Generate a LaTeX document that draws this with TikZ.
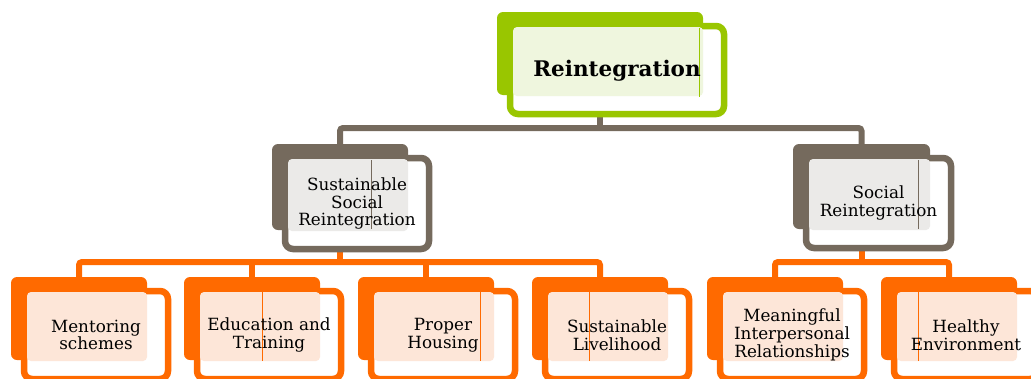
\documentclass[tikz,border=0pt]{standalone}
\usepackage{fontspec}
\setmainfont{DejaVu Serif}
\definecolor{cgreen}{HTML}{99C600}
\definecolor{tgreen}{HTML}{EFF6DE}
\definecolor{cgray}{HTML}{756A5D}
\definecolor{tgray}{HTML}{EBEAE8}
\definecolor{corange}{HTML}{FF6A00}
\definecolor{torange}{HTML}{FDE6D8}
\pgfdeclarelayer{bg}
\pgfsetlayers{bg,main}
\tikzset{
  backbox/.style={rectangle, rounded corners=6pt, fill=#1, anchor=north west, inner sep=0pt, outer sep=0pt},
  frontbox/.style={rectangle, rounded corners=8pt, draw=#1, line width=6.5pt, fill=white, anchor=north west, inner sep=0pt, outer sep=0pt},
  conn/.style={draw=#1, line width=6pt, rounded corners=3pt},
  thinline/.style={draw=#1, line width=0.8pt},
  lbl/.style={align=center, inner sep=0pt, font=\fontsize{16.8}{17.8}\selectfont},
}
% #1 name, #2 bx, #3 by, #4 w, #5 h, #6 colour, #7 tint
\newcommand{\unitbox}[7]{%
  \node[backbox=#6, minimum width=#4pt, minimum height=#5pt] (#1-b) at (#2,#3) {};
  \node[frontbox=#6, minimum width={#4pt+8pt}, minimum height={#5pt+5pt}] (#1) at ({#2+13},{#3+14}) {};
  \fill[#7, rounded corners=4pt] ({#2+16},{#3+15}) rectangle ({#2+#4},{#3+#5+1});
}
\newcommand{\unitlabel}[3]{\node[lbl,#3] (#1-t) at (#1.center) {#2};}
\begin{document}
\begin{tikzpicture}[x=1pt,y=-1pt]
\useasboundingbox (0,0) rectangle (1031,378);
\clip (0,0) rectangle (1031,378);
\coordinate (bus1) at (0,128);
\coordinate (bus2) at (0,262);

\unitbox{top}{497}{12}{206}{83}{cgreen}{tgreen}
\draw[thinline=cgreen] (699,28) -- (699,97);
\unitlabel{top}{Reintegration}{font=\fontsize{21.5}{24}\selectfont\bfseries, yshift=-1pt}

\unitbox{ml}{272}{144}{136}{86}{cgray}{tgray}
\draw[thinline=cgray] (371,160) -- (371,229);
\unitlabel{ml}{Sustainable\\Social\\Reintegration}{}

\unitbox{mr}{793}{144}{137}{85}{cgray}{tgray}
\draw[thinline=cgray] (918,160) -- (918,229);
\unitlabel{mr}{Social\\Reintegration}{}

\unitbox{b1}{11}{277}{136}{83}{corange}{torange}
\unitlabel{b1}{Mentoring\\schemes}{}

\unitbox{b2}{184}{277}{136}{83}{corange}{torange}
\draw[thinline=corange] (262,291) -- (262,361);
\unitlabel{b2}{Education and\\Training}{}

\unitbox{b3}{358}{277}{136}{83}{corange}{torange}
\draw[thinline=corange] (480,291) -- (480,361);
\unitlabel{b3}{Proper\\Housing}{}

\unitbox{b4}{532}{277}{136}{83}{corange}{torange}
\draw[thinline=corange] (589,291) -- (589,361);
\unitlabel{b4}{Sustainable\\Livelihood}{}

\unitbox{b5}{707}{277}{136}{83}{corange}{torange}
\unitlabel{b5}{Meaningful\\Interpersonal\\Relationships}{}

\unitbox{b6}{881}{277}{136}{83}{corange}{torange}
\draw[thinline=corange] (918,291) -- (918,361);
\unitlabel{b6}{Healthy\\Environment}{}

\begin{pgfonlayer}{bg}
\draw[conn=cgray] (top-b.center |- top.south) -- (top-b.center |- bus1);
\draw[conn=cgray] (ml-b.north) |- (bus1 -| mr-b.north) -- (mr-b.north);
\draw[conn=corange] (ml-b.center |- ml.south) -- (ml-b.center |- bus2);
\draw[conn=corange] (b1-b.north) |- (bus2 -| b4-b.north) -- (b4-b.north);
\draw[conn=corange] (b2-b.north) -- (b2-b.north |- bus2);
\draw[conn=corange] (b3-b.north) -- (b3-b.north |- bus2);
\draw[conn=corange] (mr-b.center |- mr.south) -- (mr-b.center |- bus2);
\draw[conn=corange] (b5-b.north) |- (bus2 -| b6-b.north) -- (b6-b.north);
\end{pgfonlayer}
\end{tikzpicture}
\end{document}
